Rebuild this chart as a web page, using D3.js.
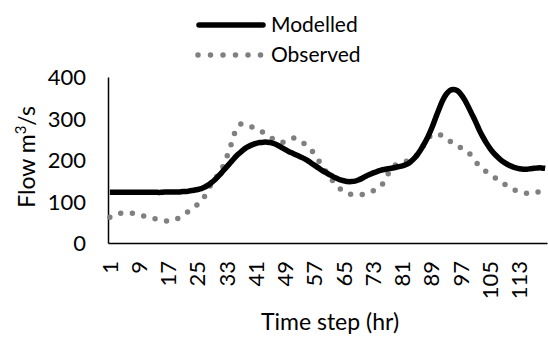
<!DOCTYPE html>
<html>
<head>
<meta charset="utf-8">
<script src="https://cdn.jsdelivr.net/npm/d3@7"></script>
<style>
  body { margin: 0; background: #fff; }
  svg text { font-family: Lato, "Open Sans", sans-serif; fill: #000; }
</style>
</head>
<body>
<div id="chart"></div>
<script>
// hourly time steps 1..120
var hours = d3.range(1, 121);
var xTicks = [1, 9, 17, 25, 33, 41, 49, 57, 65, 73, 81, 89, 97, 105, 113];
var yTicks = [0, 100, 200, 300, 400];

var modelled = [
  122,122,122,122,122,122,122,122,122,122,
  122,122,122,122,122,123,123,123,123,123,
  124,124,126,127,129,131,135,140,147,155,
  164,174,184,194,204,213,221,228,233,237,
  240,242,243,243,242,239,235,230,225,220,
  216,212,208,204,199,193,187,181,175,170,
  165,160,156,152,150,148,148,149,152,156,
  161,165,169,172,175,177,179,180,182,184,
  186,189,194,202,212,225,240,257,277,300,
  323,344,359,368,370,367,358,345,328,310,
  292,272,255,240,227,216,207,199,193,188,
  184,181,179,178,178,179,180,181,181,180
];
var observed = [
  62,66,70,72,73,73,72,71,69,66,
  63,61,59,58,56,54,53,54,57,61,
  66,73,79,86,93,100,114,131,145,158,
  168,186,208,233,262,282,287,286,283,279,
  275,271,266,260,254,249,245,242,245,250,
  253,251,246,240,233,224,214,200,186,173,
  161,149,139,130,123,119,117,116,116,117,
  119,122,126,130,136,148,165,182,188,191,
  194,197,200,204,212,222,240,253,260,263,
  262,257,251,245,240,234,229,224,218,208,
  196,186,178,171,165,159,153,147,141,136,
  131,126,123,121,120,120,121,123,125,127
];

var W = 548, H = 338;
var svg = d3.select("#chart").append("svg")
  .attr("width", W).attr("height", H);

var x = d3.scaleBand().domain(hours).range([108, 547]);
var y = d3.scaleLinear().domain([0, 400]).range([243, 77]);
var cx = function(d) { return x(d) + x.bandwidth() / 2; };

// axes
var yAxis = svg.append("g")
  .attr("transform", "translate(108,0)")
  .call(d3.axisLeft(y).tickValues(yTicks).tickSize(0).tickPadding(22).tickSizeOuter(0));
yAxis.select(".domain").attr("stroke", "#000").attr("stroke-width", 1.5);
yAxis.selectAll("text").style("font-size", "22px").attr("dy", "0.35em");

var xAxis = svg.append("g")
  .attr("transform", "translate(0,243)")
  .call(d3.axisBottom(x).tickValues(xTicks).tickSize(0).tickSizeOuter(0));
xAxis.select(".domain").attr("stroke", "#000").attr("stroke-width", 1.5);
xAxis.selectAll("text")
  .style("font-size", "22px")
  .attr("text-anchor", "end")
  .attr("transform", "rotate(-90)")
  .attr("x", -18).attr("y", 0).attr("dy", "0.35em");

// lines
var line = d3.line().curve(d3.curveCatmullRom.alpha(0.5))
  .x(function(d, i) { return cx(hours[i]); })
  .y(function(d) { return y(d); });

svg.append("path").datum(observed)
  .attr("d", line)
  .attr("fill", "none")
  .attr("stroke", "#808080")
  .attr("stroke-width", 5.5)
  .attr("stroke-linecap", "round")
  .attr("stroke-dasharray", "0 11.7");

svg.append("path").datum(modelled)
  .attr("d", line)
  .attr("fill", "none")
  .attr("stroke", "#000")
  .attr("stroke-width", 5.5)
  .attr("stroke-linejoin", "round");

// legend
var leg = svg.append("g");
leg.append("line").attr("x1", 199).attr("x2", 263).attr("y1", 25).attr("y2", 25)
  .attr("stroke", "#000").attr("stroke-width", 5.5).attr("stroke-linecap", "round");
leg.append("text").attr("x", 271).attr("y", 25).attr("dy", "0.35em")
  .style("font-size", "21px").text("Modelled");
leg.append("line").attr("x1", 198).attr("x2", 262).attr("y1", 55).attr("y2", 55)
  .attr("stroke", "#808080").attr("stroke-width", 5.5).attr("stroke-linecap", "round")
  .attr("stroke-dasharray", "0 12.5");
leg.append("text").attr("x", 271).attr("y", 55).attr("dy", "0.35em")
  .style("font-size", "21px").text("Observed");

// axis titles
svg.append("text")
  .attr("transform", "translate(27,157) rotate(-90)")
  .attr("text-anchor", "middle").attr("dy", "0.35em")
  .style("font-size", "23px")
  .html('Flow m<tspan baseline-shift="super" font-size="15px">3</tspan>/s');

svg.append("text")
  .attr("x", 330).attr("y", 330).attr("text-anchor", "middle")
  .style("font-size", "23px")
  .text("Time step (hr)");
</script>
</body>
</html>
